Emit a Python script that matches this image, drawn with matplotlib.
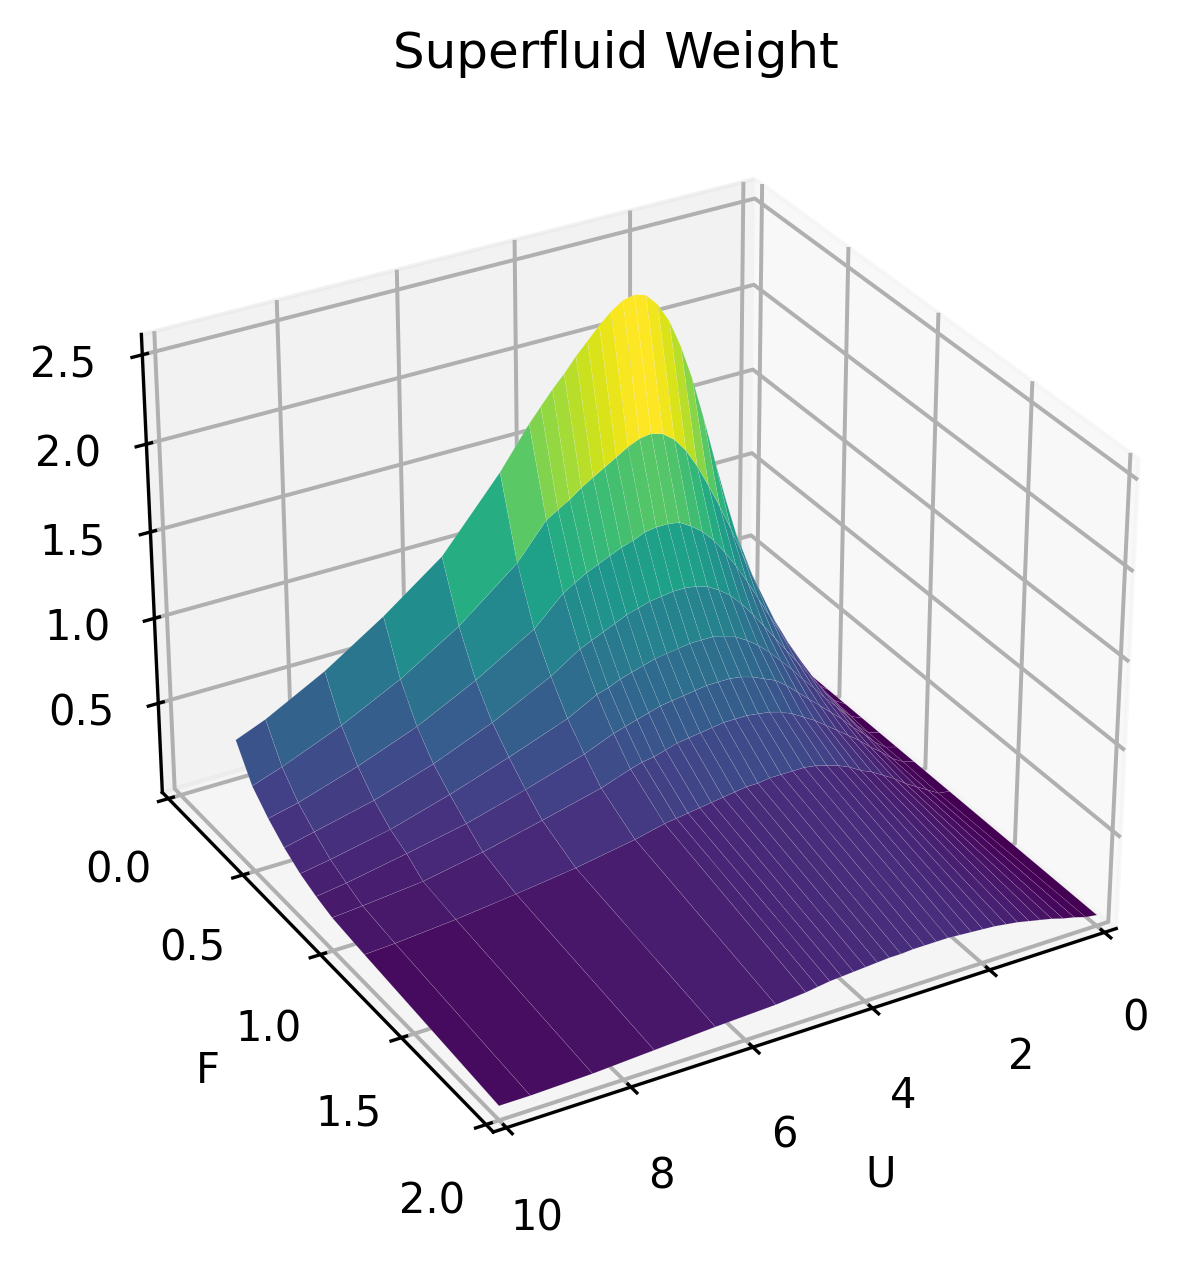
import numpy as np
import matplotlib
matplotlib.use("Agg")
import matplotlib.pyplot as plt

plt.rcParams["axes3d.automargin"] = True
plt.rcParams["grid.linewidth"] = 0.95

U_values = [0, .2, .4, .6, .8, 1.0, 1.2, 1.4, 1.6, 1.8, 2.0, 2.2, 2.4, 2.6, 2.8, 3.0, 3.2, 3.4, 3.6, 3.8,
            4.0, 4.2, 4.4, 4.6, 4.8, 5.0, 5.5, 6.5, 7.5, 8.5, 9.5, 10]
F_values = [.4, .5, .6, .7, .8, .9, 1.0, 1.2, 2.0]
F_ticks = [0.0, 0.5, 1.0, 1.5, 2.0]

w_f04 = [.03, .11, .23, .36, .50, .65, .82, 1.02, 1.25, 1.50, 1.76, 2.00, 2.20, 2.36, 2.47, 2.54, 2.56, 2.545, 2.50, 2.44,
         2.37, 2.30, 2.22, 2.15, 2.07, 1.99, 1.76, 1.37, 1.12, .90, .72, .65]
w_f05 = [.03, .08, .18, .29, .42, .55, .70, .85, 1.01, 1.17, 1.32, 1.46, 1.59, 1.70, 1.78, 1.83, 1.85, 1.84, 1.81, 1.77,
         1.73, 1.69, 1.65, 1.60, 1.56, 1.52, 1.32, 1.05, .84, .67, .53, .47]
w_f06 = [.03, .07, .15, .25, .36, .47, .58, .70, .82, .94, 1.05, 1.15, 1.24, 1.31, 1.36, 1.40, 1.41, 1.41, 1.40, 1.37,
         1.35, 1.32, 1.29, 1.26, 1.22, 1.18, 1.02, .82, .65, .52, .41, .37]
w_f07 = [.03, .06, .13, .22, .31, .40, .49, .58, .67, .76, .85, .93, 1.00, 1.05, 1.09, 1.11, 1.12, 1.12, 1.11, 1.10,
         1.08, 1.06, 1.03, 1.00, .97, .94, .83, .66, .52, .41, .33, .29]
w_f08 = [.03, .05, .11, .19, .27, .34, .42, .49, .57, .64, .71, .77, .82, .86, .88, .90, .90, .90, .89, .88,
         .87, .85, .83, .81, .78, .76, .67, .545, .43, .33, .26, .23]
w_f09 = [.03, .05, .10, .17, .23, .30, .36, .42, .48, .54, .60, .65, .68, .71, .73, .74, .74, .74, .73, .72,
         .71, .70, .68, .66, .64, .62, .55, .445, .35, .28, .215, .19]
w_f10 = [.03, .05, .09, .15, .20, .26, .31, .36, .41, .46, .50, .54, .57, .59, .60, .61, .61, .61, .60, .59,
         .58, .57, .55, .53, .52, .50, .44, .355, .275, .21, .175, .16]
w_f12 = [.03, .04, .08, .12, .16, .21, .25, .29, .32, .36, .39, .41, .43, .44, .44, .44, .44, .43, .43, .42,
         .41, .40, .39, .38, .37, .36, .32, .26, .215, .175, .145, .135]
w_f20 = [.03, .04, .06, .075, .095, .11, .125, .14, .15, .16, .165, .17, .175, .18, .18, .18, .18, .175, .175, .17,
         .165, .16, .155, .15, .14, .13, .115, .10, .08, .06, .05, .05]

weights = np.array([w_f04, w_f05, w_f06, w_f07, w_f08, w_f09, w_f10, w_f12, w_f20])
U, F = np.meshgrid(U_values, F_values)

fig = plt.figure(figsize=(1199 / 300, 1268 / 300), dpi=300)
size = 1109
ax = fig.add_axes([61 / 1199, (1268 - 93 - size) / 1268, size / 1199, size / 1268], projection="3d")
ax.plot_surface(U, F, weights, cmap="viridis", rstride=1, cstride=1,
                linewidth=0.1, edgecolor=(1, 1, 1, 0.22))
ax.view_init(elev=30, azim=60)
ax.set_xlim(0, 10)
ax.set_ylim(0, 2)
ax.set_zlim(0.02, 2.56)
ax.set_yticks(F_ticks)
ax.set_xlabel("U")
ax.set_ylabel("F")
ax.set_title("Superfluid Weight")
fig.savefig("out.png", dpi=300)
